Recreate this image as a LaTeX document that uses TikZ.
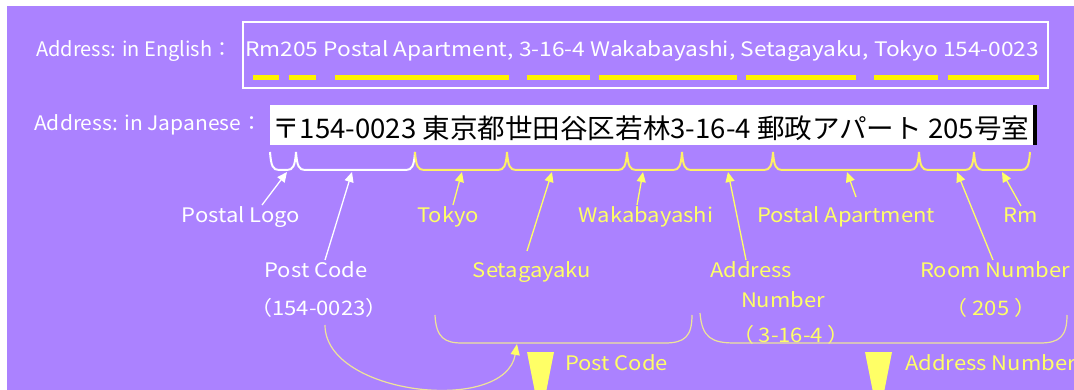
\documentclass[tikz,border=0pt]{standalone}
\usepackage{fontspec}
\usepackage{graphicx}
\setmainfont{Noto Sans CJK JP}
\newfontfamily\lblfont[FakeStretch=1.1]{Noto Sans CJK JP}
\usetikzlibrary{arrows.meta}
\definecolor{bgpurple}{HTML}{AB82FF}
\definecolor{lblyellow}{HTML}{FFFF66}
\definecolor{dashyellow}{HTML}{FFF200}
\definecolor{braceyellow}{HTML}{FFF066}
\definecolor{paleyellow}{HTML}{EEE39A}
\begin{document}
\begin{tikzpicture}[x=1pt,y=-1pt,
  lbl/.style={font=\lblfont\fontsize{20}{23}\selectfont, inner sep=0pt, anchor=base},
  wlbl/.style={lbl,text=white},
  ylbl/.style={lbl,text=lblyellow},
  warrow/.style={draw=white,line width=1.3pt,-{Triangle[length=10pt,width=9pt]}},
  yarrow/.style={draw=lblyellow,line width=1.3pt,-{Triangle[length=10pt,width=9pt]}},
  bigbrace/.style={draw=paleyellow,line width=1.2pt},
  uline/.style={fill=dashyellow},
  tri/.style={fill=lblyellow}
]
\useasboundingbox (0,0) rectangle (1074,390);
\fill[white] (0,0) rectangle (1074,390);
\fill[bgpurple] (7,6) rectangle (1074,390);

% English row
\node[wlbl, anchor=base west] (lblEn) at (36,57) {\resizebox{196pt}{\height}{Address: in English：}};
\draw[white, line width=1.2pt] (243,22) rectangle (1048,88);
\node[wlbl, anchor=base west, font=\fontsize{20}{23}\selectfont] (eng) at (245,57) {\resizebox{794pt}{\height}{Rm205 Postal Apartment, 3-16-4 Wakabayashi, Setagayaku, Tokyo 154-0023}};
\foreach \a/\b in {253/279, 289/316, 335/509, 527/590, 599/737, 746/856, 874/938, 948/1039}
  \fill[uline] (\a,75.5) rectangle (\b,80.5);

% Japanese row
\node[wlbl, anchor=base west] (lblJp) at (34,131) {\resizebox{228pt}{\height}{Address: in Japanese：}};
\fill[white] (270,105) rectangle (1033,145);
\fill[black] (1033,105) rectangle (1037,145);
\node[anchor=base west, inner sep=0pt, text=black, font=\fontsize{27}{30}\selectfont] (jp) at (272,139) {\resizebox{757pt}{\height}{〒154-0023 東京都世田谷区若林3-16-4 郵政アパート 205号室}};

% small braces
\foreach \a/\b/\c in {270/296/white, 296/415/white, 415/507/braceyellow, 507/627/braceyellow, 627/682/braceyellow, 682/773/braceyellow, 773/919/braceyellow, 919/974/braceyellow, 974/1030/braceyellow}
  \draw[draw=\c, line width=2pt] (\a,152) .. controls (\a+1,166) and (\a+3,170) .. (\a+9,170) -- (\b-9,170) .. controls (\b-3,170) and (\b-1,166) .. (\b,152);

% labels row 1
\node[wlbl] (logo) at (241,223) {Postal Logo};
\node[ylbl] (tokyo) at (448,223) {Tokyo};
\node[ylbl] (waka) at (646,223) {Wakabayashi};
\node[ylbl] (apt) at (846,223) {Postal Apartment};
\node[ylbl] (rm) at (1021,223) {Rm};
% labels row 2
\node[wlbl] (pcode) at (316,277) {Post Code};
\node[wlbl] (pcnum) at (319,315) {（154-0023）};
\node[ylbl] (seta) at (532,277) {Setagayaku};
\node[ylbl] (addr) at (751,277) {Address};
\node[ylbl] (addrN) at (783,307) {Number};
\node[ylbl] (addrNum) at (791,342) {（ 3-16-4 ）};
\node[ylbl] (room) at (995,277) {Room Number};
\node[ylbl] (roomNum) at (991,315) {（ 205 ）};

% arrows
\coordinate (sLogo) at (262,205); \coordinate (tLogo) at (287,172);
\coordinate (sPc) at (325,260);   \coordinate (tPc) at (352,172);
\coordinate (sTk) at (453,205);   \coordinate (tTk) at (462,172);
\coordinate (sSt) at (527,251);   \coordinate (tSt) at (552,172);
\coordinate (sWk) at (637,205);   \coordinate (tWk) at (643,172);
\coordinate (sAd) at (746,260);   \coordinate (tAd) at (728,172);
\coordinate (sAp) at (856,197);   \coordinate (tAp) at (847,172);
\coordinate (sRn) at (993,260);   \coordinate (tRn) at (957,172);
\coordinate (sRm) at (1021,206);  \coordinate (tRm) at (1002,172);
\draw[warrow] (sLogo) -- (tLogo);
\draw[warrow] (sPc) -- (tPc);
\draw[yarrow] (sTk) -- (tTk);
\draw[yarrow] (sSt) -- (tSt);
\draw[yarrow] (sWk) -- (tWk);
\draw[yarrow] (sAd) -- (tAd);
\draw[yarrow] (sAp) -- (tAp);
\draw[yarrow] (sRn) -- (tRn);
\draw[yarrow] (sRm) -- (tRm);

% big braces
\draw[bigbrace] (435,315) .. controls (436,338) and (445,343) .. (462,343) -- (665,343) .. controls (685,343) and (692,336) .. (692,315);
\draw[bigbrace] (700,313) .. controls (702,338) and (712,343) .. (735,343) -- (1040,343) .. controls (1060,343) and (1067,336) .. (1067,315);

% curved arrow
\coordinate (pcs) at (325,325); \coordinate (pct) at (517,344);
\draw[bigbrace, -{Triangle[length=11pt,width=9pt,color=lblyellow]}] (pcs) .. controls (325,395) and (505,415) .. (pct);

% triangles and bottom labels
\fill[tri] (527,352) -- (554,352) -- (540.5,420) -- cycle;
\fill[tri] (865,352) -- (892,352) -- (878.5,420) -- cycle;
\node[ylbl, anchor=base west] (pcBottom) at (565,370) {Post Code};
\node[ylbl, anchor=base west] (anBottom) at (905,370) {Address Number};
\end{tikzpicture}
\end{document}
